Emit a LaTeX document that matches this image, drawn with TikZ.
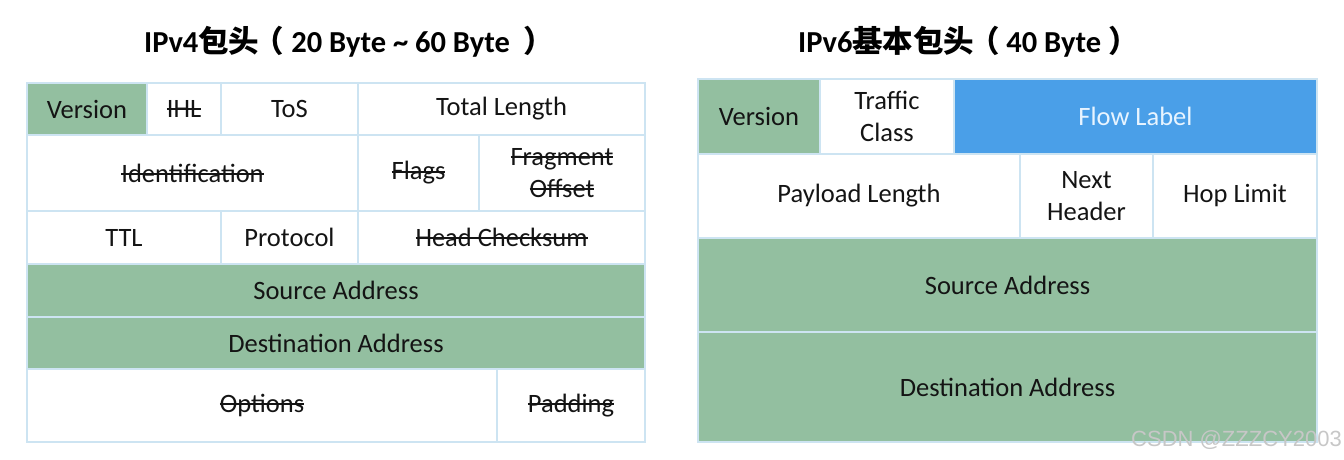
\documentclass[tikz,border=0pt]{standalone}
\usepackage{fontspec}
\setmainfont{Carlito}
\newfontfamily\cjk{Noto Sans CJK SC}
\newfontfamily\wmfont{Liberation Sans}
\definecolor{cellgreen}{HTML}{93BFA0}
\definecolor{cellblue}{HTML}{4A9FE8}
\definecolor{cellborder}{HTML}{CDE4F2}
\definecolor{celltext}{HTML}{141414}
\definecolor{flowtext}{HTML}{E8F4FF}
\newcommand\strk[1]{\setbox0=\hbox{#1}\rlap{\rule[0.28em]{\wd0}{0.065em}}\box0}
\tikzset{
  cell/.style={draw=cellborder, line width=2pt, fill=white, inner sep=0pt, outer sep=0pt,
    text=celltext, align=center, font=\fontsize{26.5}{32}\selectfont},
  greencell/.style={cell, fill=cellgreen},
  bluecell/.style={cell, fill=cellblue, text=flowtext},
  titletext/.style={anchor=base west, inner sep=0pt, text=black, font=\fontsize{30.5}{36}\selectfont\bfseries},
}
% name, x1, y1, x2, y2, style, text
\newcommand\fcell[7]{\node[#6, minimum width={(#4-#2)*1pt}, minimum height={(#5-#3)*1pt}]
  (#1) at ({(#2+#4)/2},{(#3+#5)/2}) {#7};}
\begin{document}
\begin{tikzpicture}[x=1pt,y=-1pt]
\useasboundingbox (0,0) rectangle (1344,460);
% titles
\node[titletext] (t4) at (144,53) {IPv4{\cjk 包头\kern-0.18em（} 20 Byte \textasciitilde{} 60 Byte \ {\cjk ）}};
\node[titletext] (t6) at (798,53) {IPv6{\cjk 基本包头\kern-0.18em（} 40 Byte {\cjk ）}};
% IPv4 header
\fcell{v4ver}{27}{83}{147}{135}{greencell}{Version}
\fcell{v4ihl}{147}{83}{221}{135}{cell}{\strk{IHL}}
\fcell{v4tos}{221}{83}{358}{135}{cell}{ToS}
\fcell{v4tl}{358}{83}{645}{135}{cell}{Total Length}
\fcell{v4id}{27}{135}{358}{211}{cell}{\strk{Identification}}
\fcell{v4flags}{358}{135}{479}{211}{cell}{\strk{Flags}}
\fcell{v4frag}{479}{135}{645}{211}{cell}{\strk{Fragment}\\\strk{Offset}}
\fcell{v4ttl}{27}{211}{221}{264}{cell}{TTL}
\fcell{v4proto}{221}{211}{358}{264}{cell}{Protocol}
\fcell{v4cks}{358}{211}{645}{264}{cell}{\strk{Head Checksum}}
\fcell{v4src}{27}{264}{645}{317}{greencell}{Source Address}
\fcell{v4dst}{27}{317}{645}{369}{greencell}{Destination Address}
\fcell{v4opt}{27}{369}{497}{442}{cell}{\strk{Options}}
\fcell{v4pad}{497}{369}{645}{442}{cell}{\strk{Padding}}
% IPv6 header
\fcell{v6ver}{698}{79}{820}{154}{greencell}{Version}
\fcell{v6tc}{820}{79}{954}{154}{cell}{Traffic\\Class}
\fcell{v6fl}{954}{79}{1317}{154}{bluecell}{Flow Label}
\fcell{v6pl}{698}{154}{1020}{238}{cell}{Payload Length}
\fcell{v6nh}{1020}{154}{1153}{238}{cell}{Next\\Header}
\fcell{v6hl}{1153}{154}{1317}{238}{cell}{Hop Limit}
\fcell{v6src}{698}{238}{1317}{332}{greencell}{Source Address}
\fcell{v6dst}{698}{332}{1317}{442}{greencell}{Destination Address}
% watermark
\node[anchor=base east, inner sep=0pt, text=black!22, font=\wmfont\fontsize{22}{24}\selectfont] (wm) at (1342,446) {CSDN @ZZZCY2003};
\end{tikzpicture}
\end{document}
